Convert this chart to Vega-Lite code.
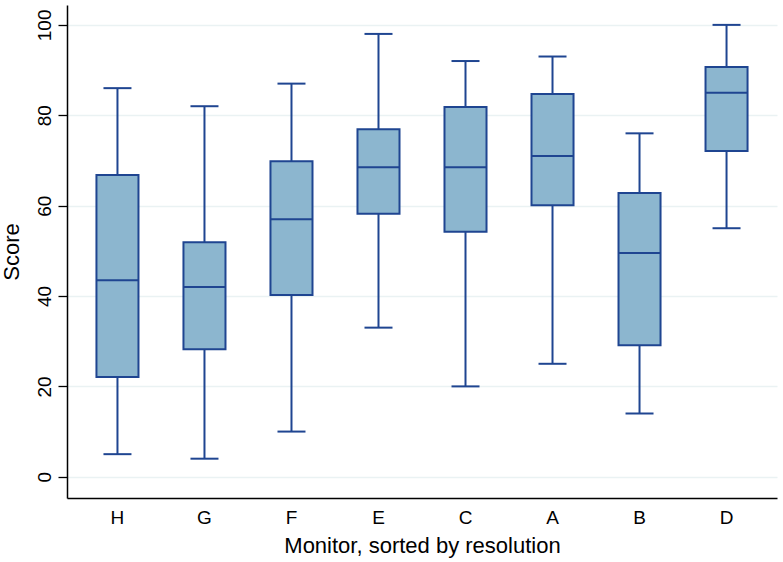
{
  "$schema": "https://vega.github.io/schema/vega-lite/v6.json",
  "autosize": {"type": "none"},
  "padding": {"left": 67, "top": 5, "right": 6, "bottom": 64},
  "width": 710,
  "height": 493,
  "background": "white",
  "config": {
    "font": "Liberation Sans",
    "view": {"stroke": null},
    "axis": {"labelFont": "Liberation Sans", "titleFont": "Liberation Sans", "labelColor": "#000", "titleColor": "#000", "titleFontWeight": "normal"}
  },
  "data": {
    "values": [
      {"monitor": "H", "lower": 5, "q1": 22.1, "median": 43.5, "q3": 66.8, "upper": 86},
      {"monitor": "G", "lower": 4, "q1": 28.2, "median": 42, "q3": 51.9, "upper": 82},
      {"monitor": "F", "lower": 10, "q1": 40.2, "median": 57, "q3": 69.8, "upper": 87},
      {"monitor": "E", "lower": 33, "q1": 58.2, "median": 68.5, "q3": 76.9, "upper": 98},
      {"monitor": "C", "lower": 20, "q1": 54.2, "median": 68.5, "q3": 81.8, "upper": 92},
      {"monitor": "A", "lower": 25, "q1": 60.1, "median": 71, "q3": 84.7, "upper": 93},
      {"monitor": "B", "lower": 14, "q1": 29.1, "median": 49.5, "q3": 62.8, "upper": 76},
      {"monitor": "D", "lower": 55, "q1": 72.1, "median": 85, "q3": 90.7, "upper": 100}
    ]
  },
  "encoding": {
    "x": {
      "field": "monitor", "type": "nominal",
      "sort": ["H", "G", "F", "E", "C", "A", "B", "D"],
      "scale": {"type": "band", "paddingInner": 0, "paddingOuter": 0.08},
      "axis": {
        "title": "Monitor, sorted by resolution",
        "labelAngle": 0, "labelFontSize": 19, "titleFontSize": 22,
        "ticks": false, "labelPadding": 10, "titlePadding": 8,
        "domainColor": "#000", "domainWidth": 1.5, "grid": false
      }
    }
  },
  "layer": [
    {
      "mark": {"type": "rule", "color": "#1f4591", "strokeWidth": 2},
      "encoding": {
        "y": {
          "field": "lower", "type": "quantitative",
          "scale": {"domain": [-4.7, 104.4], "nice": false, "zero": false},
          "axis": {
            "title": "Score", "values": [0, 20, 40, 60, 80, 100],
            "labelAngle": -90, "labelAlign": "center", "labelBaseline": "alphabetic",
            "labelFontSize": 19, "titleFontSize": 22, "labelPadding": 8,
            "tickSize": 9, "tickColor": "#000", "tickWidth": 1.3,
            "domainColor": "#000", "domainWidth": 1.5,
            "grid": true, "gridColor": "#eaf2f3", "gridWidth": 1.5,
            "titlePadding": 12
          }
        },
        "y2": {"field": "upper"}
      }
    },
    {
      "mark": {"type": "tick", "color": "#1f4591", "size": 28, "thickness": 2, "opacity": 1},
      "encoding": {"y": {"field": "lower", "type": "quantitative"}}
    },
    {
      "mark": {"type": "tick", "color": "#1f4591", "size": 28, "thickness": 2, "opacity": 1},
      "encoding": {"y": {"field": "upper", "type": "quantitative"}}
    },
    {
      "mark": {"type": "bar", "fill": "#8cb6cf", "stroke": "#1f4591", "strokeWidth": 2, "width": {"band": 0.483}},
      "encoding": {
        "y": {"field": "q1", "type": "quantitative"},
        "y2": {"field": "q3"}
      }
    },
    {
      "mark": {"type": "tick", "color": "#1f4591", "size": 42, "thickness": 2, "opacity": 1},
      "encoding": {"y": {"field": "median", "type": "quantitative"}}
    }
  ]
}
